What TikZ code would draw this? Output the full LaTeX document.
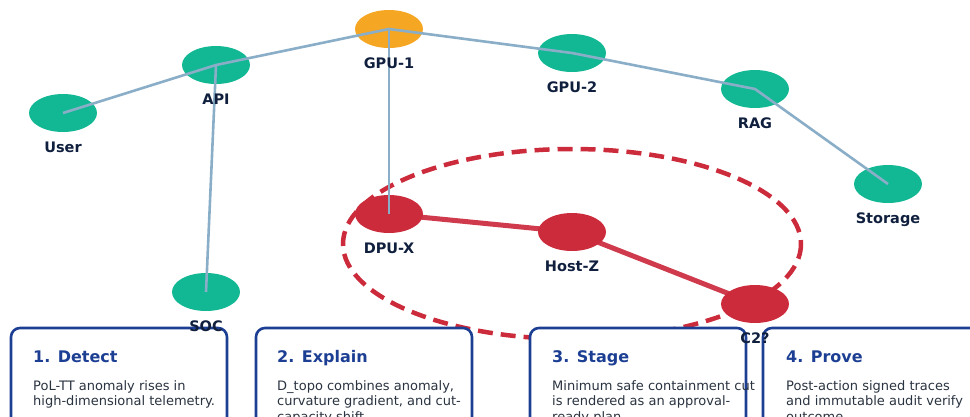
\documentclass[tikz,border=0pt]{standalone}
\usepackage{fontspec}
\setmainfont{DejaVu Sans}
\usetikzlibrary{calc}

\definecolor{teal}{HTML}{12B894}
\definecolor{amber}{HTML}{F5A623}
\definecolor{alert}{HTML}{CC2B3C}
\definecolor{alertline}{HTML}{CF3A4C}
\definecolor{link}{HTML}{8AAEC8}
\definecolor{navy}{HTML}{0F1F3D}
\definecolor{boxblue}{HTML}{1C3F94}
\definecolor{bodygray}{HTML}{2A3340}

\tikzset{
  host/.style={ellipse, minimum width=68pt, minimum height=38pt, inner sep=0pt},
  okhost/.style={host, fill=teal},
  hothost/.style={host, fill=amber},
  badhost/.style={host, fill=alert},
  hostlabel/.style={anchor=base, inner sep=0pt, text=navy,
    font=\fontsize{14.5}{17}\selectfont\bfseries},
  netlink/.style={draw=link, line width=2.6pt},
  badlink/.style={draw=alertline, line width=5pt},
  blast/.style={draw=alert, line width=4.5pt, dash pattern=on 15pt off 8pt},
  stepcard/.style={draw=boxblue, line width=2.6pt, fill=white, rounded corners=9pt},
  steptitle/.style={anchor=base west, inner sep=0pt, text=boxblue,
    font=\fontsize{16}{19}\selectfont\bfseries},
  stepbody/.style={anchor=north west, inner sep=0pt, text=bodygray, align=left,
    font=\fontsize{13}{15.5}\selectfont},
}
\usetikzlibrary{shapes.geometric}

\begin{document}
\begin{tikzpicture}[x=1pt, y=-1pt]
  \useasboundingbox (0,0) rectangle (970,416);
  \clip (0,0) rectangle (970,416);

  % containment region around the compromised path
  \draw[blast] (572,244) ellipse [x radius=229, y radius=95];

  % compromised path
  \coordinate (dpuc) at (389,214);
  \coordinate (hostc) at (572,232);
  \coordinate (c2c) at (755,304);
  \draw[badlink] (dpuc) -- (hostc) -- (c2c);

  % hosts
  \node[okhost]  (user)    at (63,113)  {};
  \node[okhost]  (api)     at (216,65)  {};
  \node[hothost] (gpu1)    at (389,29)  {};
  \node[okhost]  (gpu2)    at (572,53)  {};
  \node[okhost]  (rag)     at (755,89)  {};
  \node[okhost]  (storage) at (888,184) {};
  \node[okhost]  (soc)     at (206,292) {};
  \node[badhost] (dpux)    at (dpuc)    {};
  \node[badhost] (hostz)   at (hostc)   {};
  \node[badhost] (c2)      at (c2c)     {};

  % normal links, centre to centre
  \draw[netlink] (user.center) -- (api.center) -- (gpu1.center) -- (gpu2.center)
                 -- (rag.center) -- (storage.center);
  \draw[netlink] (api.center) -- (soc.center);
  \draw[netlink] (gpu1.center) -- (dpux.center);

  % workflow cards
  \draw[stepcard] (11,328) rectangle (227,450);
  \draw[stepcard] (256,328) rectangle (472,450);
  \draw[stepcard] (530,328) rectangle (746,450);
  \draw[stepcard] (763,328) rectangle (979,450);

  \node[steptitle] (t1) at (33,362)  {1. Detect};
  \node[steptitle] (t2) at (277,362) {2. Explain};
  \node[steptitle] (t3) at (552,362) {3. Stage};
  \node[steptitle] (t4) at (786,362) {4. Prove};

  \node[stepbody] (b1) at (33,380)  {PoL-TT anomaly rises in\\high-dimensional telemetry.};
  \node[stepbody] (b2) at (277,380) {D\_topo combines anomaly,\\curvature gradient, and cut-\\capacity shift.};
  \node[stepbody] (b3) at (552,380) {Minimum safe containment cut\\is rendered as an approval-\\ready plan.};
  \node[stepbody] (b4) at (786,380) {Post-action signed traces\\and immutable audit verify\\outcome.};

  % host labels
  \foreach \n/\t in {user/User, api/API, gpu1/GPU-1, gpu2/GPU-2, rag/RAG,
                     storage/Storage, soc/SOC, dpux/DPU-X, hostz/Host-Z, c2/C2?}
    \node[hostlabel] at ($(\n.center)+(0,39)$) {\t};
\end{tikzpicture}
\end{document}
